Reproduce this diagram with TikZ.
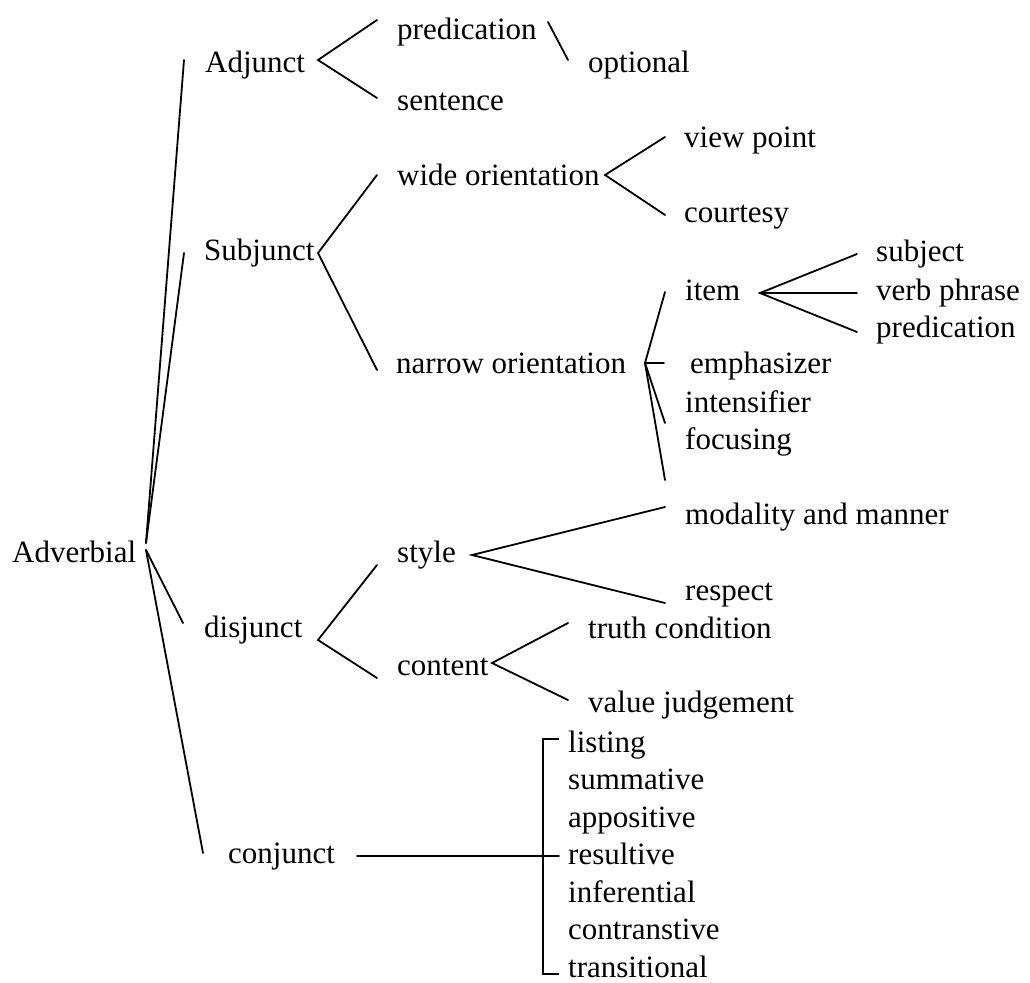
\documentclass[tikz,border=0pt]{standalone}
\usepackage{fontspec}
\setmainfont{Liberation Serif}
\begin{document}
\begin{tikzpicture}[x=1pt,y=-1pt,
  lbl/.style={anchor=base west,inner sep=0pt,font=\fontsize{31}{36}\selectfont},
  edge/.style={line width=1.8pt,line cap=round}]
\useasboundingbox (0,0) rectangle (1030,982);

% labels
\node[lbl] (adv)   at (12,562)  {Adverbial};
\node[lbl] (adj)   at (205,72)  {Adjunct};
\node[lbl] (sub)   at (204,260) {Subjunct};
\node[lbl] (dis)   at (204,637) {disjunct};
\node[lbl] (con)   at (228,863) {conjunct};
\node[lbl] (pred)  at (397,40)  {predication};
\node[lbl] (sent)  at (397,110) {sentence};
\node[lbl] (opt)   at (588,72)  {optional};
\node[lbl] (wide)  at (397,185) {wide orientation};
\node[lbl] (narr)  at (396,373) {narrow orientation};
\node[lbl] (view)  at (684,147) {view point};
\node[lbl] (court) at (684,222) {courtesy};
\node[lbl] (item)  at (685,300) {item};
\node[lbl] (subj)  at (876,261) {subject};
\node[lbl] (vp)    at (876,300) {verb phrase};
\node[lbl] (ipred) at (876,337) {predication};
\node[lbl] (emph)  at (690,373) {emphasizer};
\node[lbl] (inten) at (685,412) {intensifier};
\node[lbl] (focus) at (685,449) {focusing};
\node[lbl] (style) at (397,562) {style};
\node[lbl] (cont)  at (397,675) {content};
\node[lbl] (modal) at (685,524) {modality and manner};
\node[lbl] (resp)  at (685,600) {respect};
\node[lbl] (truth) at (588,638) {truth condition};
\node[lbl] (value) at (588,712) {value judgement};
\node[lbl] (l1) at (568,752) {listing};
\node[lbl] (l2) at (568,789) {summative};
\node[lbl] (l3) at (568,827) {appositive};
\node[lbl] (l4) at (568,864) {resultive};
\node[lbl] (l5) at (568,902) {inferential};
\node[lbl] (l6) at (568,939) {contranstive};
\node[lbl] (l7) at (568,977) {transitional};

% fork points and branch ends
\coordinate (rootA) at (146,543);
\coordinate (rootB) at (146,550);
\coordinate (toAdj) at (184,60);
\coordinate (toSub) at (184,253);
\coordinate (toDis) at (183,623);
\coordinate (toCon) at (203,853);

\coordinate (fAdj) at (318,60);
\coordinate (eAdj1) at (377,20);
\coordinate (eAdj2) at (377,98);
\coordinate (oA) at (548,22);
\coordinate (oB) at (568,60);

\coordinate (fSub) at (318,253);
\coordinate (eSub1) at (377,175);
\coordinate (eSub2) at (377,370);

\coordinate (fWide) at (605,175);
\coordinate (eWide1) at (665,137);
\coordinate (eWide2) at (665,215);

\coordinate (fNarr) at (645,363);
\coordinate (eNarr1) at (665,292);
\coordinate (eNarr2) at (664,363);
\coordinate (eNarr3) at (665,423);
\coordinate (eNarr4) at (665,480);

\coordinate (fItem) at (760,293);
\coordinate (eItem1) at (857,254);
\coordinate (eItem2) at (857,293);
\coordinate (eItem3) at (857,332);

\coordinate (fDis) at (318,640);
\coordinate (eDis1) at (377,565);
\coordinate (eDis2) at (377,678);

\coordinate (fStyle) at (472,555);
\coordinate (eStyle1) at (665,507);
\coordinate (eStyle2) at (665,603);

\coordinate (fCont) at (492,663);
\coordinate (eCont1) at (568,623);
\coordinate (eCont2) at (568,700);

\coordinate (cStart) at (357,856);
\coordinate (bTop) at (543,739);
\coordinate (bBot) at (543,974);
\coordinate (tTop) at (559,739);
\coordinate (tMid) at (559,856);
\coordinate (tBot) at (559,974);

% connectors
\draw[edge] (rootA) -- (toAdj);
\draw[edge] (rootA) -- (toSub);
\draw[edge] (rootB) -- (toDis);
\draw[edge] (rootB) -- (toCon);

\draw[edge] (eAdj1) -- (fAdj) -- (eAdj2);
\draw[edge] (oA) -- (oB);
\draw[edge] (eSub1) -- (fSub) -- (eSub2);
\draw[edge] (eWide1) -- (fWide) -- (eWide2);
\draw[edge] (eNarr1) -- (fNarr) -- (eNarr4);
\draw[edge] (fNarr) -- (eNarr2);
\draw[edge] (fNarr) -- (eNarr3);
\draw[edge] (eItem1) -- (fItem) -- (eItem3);
\draw[edge] (fItem) -- (eItem2);
\draw[edge] (eDis1) -- (fDis) -- (eDis2);
\draw[edge] (eStyle1) -- (fStyle) -- (eStyle2);
\draw[edge] (eCont1) -- (fCont) -- (eCont2);

% conjunct bracket
\draw[edge] (cStart) -- (tMid);
\draw[edge,line cap=butt] (tTop) -- (bTop) -- (bBot) -- (tBot);
\end{tikzpicture}
\end{document}
